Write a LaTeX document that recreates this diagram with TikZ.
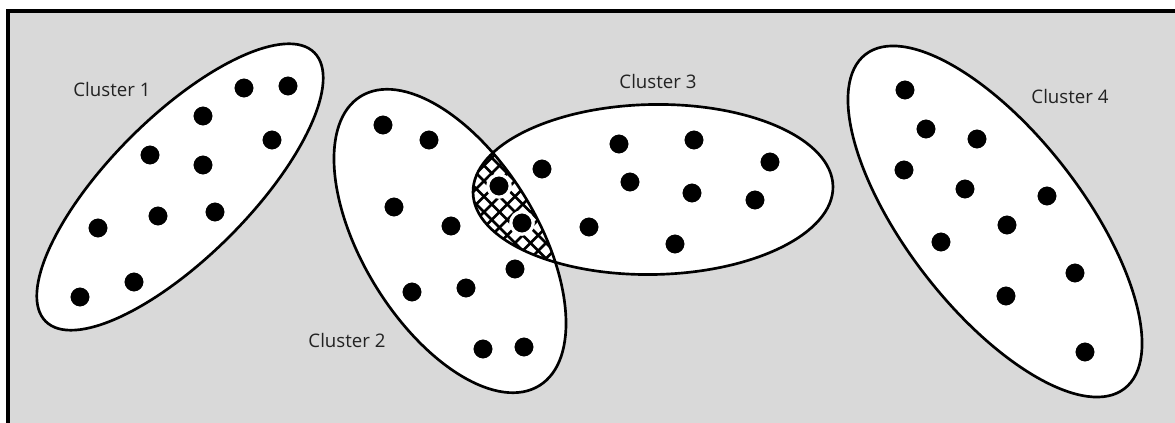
\documentclass[tikz,border=0pt]{standalone}
\usepackage{fontspec}
\setmainfont{Open Sans}
\definecolor{panel}{HTML}{D9D9D9}
\definecolor{labelgray}{HTML}{222222}

% centre x / centre y / tilt / major / minor of each cluster outline
\def\clusterlist{180/187/45/190/70, 450/241/-58.3/170/87, 653/189.5/1/180/85, 995/221.5/-52.2/211.4/87.9}

\begin{document}
\begin{tikzpicture}[x=0.75pt,y=-0.75pt,
 cluster/.style={line width=2pt},
 dot/.style={fill=black,draw=white,line width=2.4pt},
 hatch/.style={line width=2.1pt},
 tag/.style={font=\fontsize{14}{16}\selectfont,text=labelgray,inner sep=0pt}]
\useasboundingbox (0,0) rectangle (1175,423);
\clip (0,0) rectangle (1175,423);
\draw[line width=2.6pt,fill=panel] (8,11) rectangle (1200,450);
% white bodies first, outlines afterwards so both arcs of the overlap stay visible
\foreach \cx/\cy/\ang/\ra/\rb in \clusterlist
  \fill[white,rotate around={\ang:(\cx,\cy)}] (\cx,\cy) ellipse [x radius=\ra,y radius=\rb];
\begin{scope}
 \clip[rotate around={-58.3:(450,241)}] (450,241) ellipse [x radius=170,y radius=87];
 \clip[rotate around={1:(653,189.5)}] (653,189.5) ellipse [x radius=180,y radius=85];
 \foreach \k in {-14,...,14} {
  \draw[hatch] (515+\k*15.5-120,212-120) -- ++(240,240);
  \draw[hatch] (515+\k*15.5-120,212+120) -- ++(240,-240);
 }
\end{scope}
\foreach \cx/\cy/\ang/\ra/\rb in \clusterlist
  \draw[cluster,rotate around={\ang:(\cx,\cy)}] (\cx,\cy) ellipse [x radius=\ra,y radius=\rb];
% members
\foreach \p in {(244,88),(288,86),(203,116),(272,140),(150,155),(203,165),(215,212),(158,216),(98,228),(134,282),(80,297),
  (383,125),(429,140),(394,207),(451,226),(499,186),(522,223),(515,269),(412,292),(466,288),(483,349),(524,347),
  (542,169),(619,144),(694,140),(770,162),(630,182),(692,193),(755,200),(589,227),(675,244),
  (905,90),(926,129),(977,139),(904,170),(965,189),(1047,196),(1007,225),(941,242),(1075,273),(1006,296),(1085,352)}
  \path[dot] \p circle [radius=11.2];
\node[tag] (c1) at (112,90) {Cluster 1};
\node[tag] (c2) at (347,341) {Cluster 2};
\node[tag] (c3) at (658,82) {Cluster 3};
\node[tag] (c4) at (1070,97) {Cluster 4};
\end{tikzpicture}
\end{document}
